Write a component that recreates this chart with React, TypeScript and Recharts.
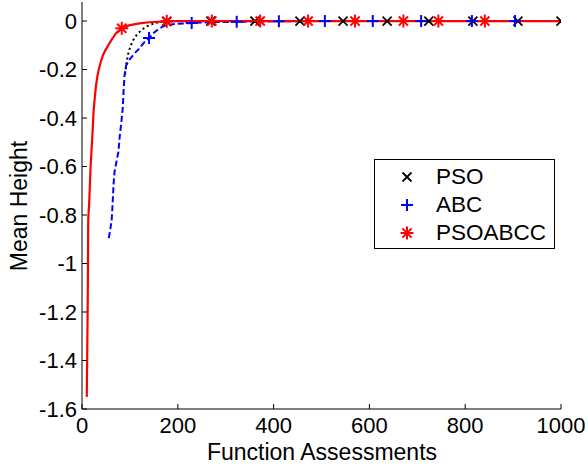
import React from 'react';
import { ComposedChart, Line, Scatter, XAxis, YAxis } from 'recharts';

// ---- data ----
const xTicks = [0, 200, 400, 600, 800, 1000];
const yTicks = [0, -0.2, -0.4, -0.6, -0.8, -1, -1.2, -1.4, -1.6];

const psoLine = [
  { x: 90, y: -0.22 }, { x: 93, y: -0.17 }, { x: 97, y: -0.13 }, { x: 101, y: -0.105 },
  { x: 106, y: -0.082 }, { x: 112, y: -0.063 }, { x: 119, y: -0.047 }, { x: 126, y: -0.034 },
  { x: 136, y: -0.021 }, { x: 147, y: -0.012 }, { x: 160, y: -0.005 }, { x: 177, y: -0.001 },
  { x: 200, y: 0 }, { x: 1000, y: 0 },
];
const psoMarkers = [
  { x: 177, y: -0.001 }, { x: 269, y: 0 }, { x: 361, y: 0 }, { x: 455, y: 0 }, { x: 545, y: 0 },
  { x: 637, y: 0 }, { x: 724, y: 0 }, { x: 816, y: 0 }, { x: 910, y: 0 }, { x: 1000, y: 0 },
];

const abcLine = [
  { x: 56, y: -0.895 }, { x: 59, y: -0.86 }, { x: 62, y: -0.82 }, { x: 64, y: -0.75 },
  { x: 66, y: -0.67 }, { x: 68, y: -0.62 }, { x: 72, y: -0.58 }, { x: 76, y: -0.54 },
  { x: 79, y: -0.47 }, { x: 82, y: -0.42 }, { x: 85, y: -0.36 }, { x: 87, y: -0.28 },
  { x: 89, y: -0.22 }, { x: 92, y: -0.185 }, { x: 97, y: -0.165 }, { x: 103, y: -0.15 },
  { x: 111, y: -0.13 }, { x: 119, y: -0.115 }, { x: 128, y: -0.092 }, { x: 140, y: -0.07 },
  { x: 149, y: -0.05 }, { x: 160, y: -0.032 }, { x: 174, y: -0.018 }, { x: 200, y: -0.011 },
  { x: 229, y: -0.008 }, { x: 270, y: -0.005 }, { x: 323, y: -0.003 }, { x: 411, y: -0.001 },
  { x: 507, y: 0 }, { x: 1000, y: 0 },
];
const abcMarkers = [
  { x: 140, y: -0.07 }, { x: 229, y: -0.008 }, { x: 323, y: -0.003 }, { x: 411, y: -0.001 },
  { x: 507, y: 0 }, { x: 607, y: 0 }, { x: 708, y: 0 }, { x: 814, y: 0 }, { x: 904, y: 0 },
];

const hybLine = [
  { x: 10, y: -1.55 }, { x: 11, y: -1.35 }, { x: 12, y: -1.15 }, { x: 12.5, y: -1.0 },
  { x: 13, y: -0.82 }, { x: 15, y: -0.75 }, { x: 16, y: -0.7 }, { x: 18, y: -0.6 },
  { x: 20, y: -0.53 }, { x: 22, y: -0.46 }, { x: 24, y: -0.38 }, { x: 26, y: -0.33 },
  { x: 29, y: -0.27 }, { x: 32, y: -0.23 }, { x: 35, y: -0.2 }, { x: 39, y: -0.17 },
  { x: 44, y: -0.14 }, { x: 49, y: -0.12 }, { x: 55, y: -0.1 }, { x: 61, y: -0.08 },
  { x: 71, y: -0.05 }, { x: 83, y: -0.03 }, { x: 98, y: -0.018 }, { x: 120, y: -0.01 },
  { x: 140, y: -0.005 }, { x: 177, y: -0.001 }, { x: 200, y: 0 }, { x: 1000, y: 0 },
];
const hybMarkers = [
  { x: 83, y: -0.03 }, { x: 177, y: -0.001 }, { x: 271, y: 0 }, { x: 372, y: 0 }, { x: 472, y: 0 },
  { x: 570, y: 0 }, { x: 671, y: 0 }, { x: 744, y: 0 }, { x: 841, y: 0 },
];

const seriesNames = ['PSO', 'ABC', 'PSOABCC'];
const seriesColors = ['#000000', '#0000ff', '#ff0000'];

const FONT = '"Liberation Sans", Arial, sans-serif';

// ---- marker shapes ----
const XMark = ({ cx, cy, color = '#000' }: any) => (
  <g stroke={color} strokeWidth={1.8} fill="none">
    <line x1={cx - 4.5} y1={cy - 4.5} x2={cx + 4.5} y2={cy + 4.5} />
    <line x1={cx - 4.5} y1={cy + 4.5} x2={cx + 4.5} y2={cy - 4.5} />
  </g>
);
const PlusMark = ({ cx, cy, color = '#0000ff' }: any) => (
  <g stroke={color} strokeWidth={2} fill="none">
    <line x1={cx - 6} y1={cy} x2={cx + 6} y2={cy} />
    <line x1={cx} y1={cy - 6} x2={cx} y2={cy + 6} />
  </g>
);
const StarMark = ({ cx, cy, color = '#ff0000' }: any) => (
  <g stroke={color} strokeWidth={2} fill="none">
    <line x1={cx - 6.5} y1={cy} x2={cx + 6.5} y2={cy} />
    <line x1={cx} y1={cy - 6.5} x2={cx} y2={cy + 6.5} />
    <line x1={cx - 4.6} y1={cy - 4.6} x2={cx + 4.6} y2={cy + 4.6} />
    <line x1={cx - 4.6} y1={cy + 4.6} x2={cx + 4.6} y2={cy - 4.6} />
  </g>
);
const markerComps = [XMark, PlusMark, StarMark];

// ---- ticks (inward) ----
const XTick = ({ x, y, payload }: any) => (
  <g>
    <line x1={x} y1={y} x2={x} y2={y - 5} stroke="#000" strokeWidth={1} />
    <text x={x} y={y + 24} textAnchor="middle" fontSize={22} fontFamily={FONT} fill="#000">
      {String(payload.value)}
    </text>
  </g>
);
const YTick = ({ x, y, payload }: any) => (
  <g>
    <line x1={x} y1={y} x2={x + 5} y2={y} stroke="#000" strokeWidth={1} />
    <text x={x - 5} y={y + 7.5} textAnchor="end" fontSize={22} fontFamily={FONT} fill="#000">
      {String(payload.value)}
    </text>
  </g>
);

export default function App() {
  return (
    <div style={{ position: 'absolute', left: 0, top: 0, width: 588, height: 466, background: '#fff' }}>
      <ComposedChart width={588} height={466} margin={{ top: 2, right: 27, bottom: 17, left: 22 }}>
        <XAxis
          type="number"
          dataKey="x"
          domain={[0, 1000]}
          ticks={xTicks}
          interval={0}
          tickSize={0}
          tickMargin={0}
          tickLine={false}
          axisLine={{ stroke: '#000', strokeWidth: 1 }}
          tick={<XTick />}
          height={40}
          allowDataOverflow
        />
        <YAxis
          type="number"
          dataKey="y"
          domain={[-1.6, 0.0785]}
          ticks={yTicks}
          interval={0}
          tickSize={0}
          tickMargin={0}
          tickLine={false}
          axisLine={{ stroke: '#000', strokeWidth: 1 }}
          tick={<YTick />}
          width={60}
          allowDataOverflow
        />
        <Line data={psoLine} dataKey="y" type="linear" stroke={seriesColors[0]} strokeWidth={2}
          strokeDasharray="2 3" dot={false} activeDot={false} isAnimationActive={false} name={seriesNames[0]} />
        <Scatter data={psoMarkers} dataKey="y" isAnimationActive={false}
          shape={(p: any) => <XMark cx={p.cx} cy={p.cy} color={seriesColors[0]} />} />
        <Line data={abcLine} dataKey="y" type="linear" stroke={seriesColors[1]} strokeWidth={2}
          strokeDasharray="6 3" dot={false} activeDot={false} isAnimationActive={false} name={seriesNames[1]} />
        <Scatter data={abcMarkers} dataKey="y" isAnimationActive={false}
          shape={(p: any) => <PlusMark cx={p.cx} cy={p.cy} color={seriesColors[1]} />} />
        <Line data={hybLine} dataKey="y" type="linear" stroke={seriesColors[2]} strokeWidth={2.2}
          dot={false} activeDot={false} isAnimationActive={false} name={seriesNames[2]} />
        <Scatter data={hybMarkers} dataKey="y" isAnimationActive={false}
          shape={(p: any) => <StarMark cx={p.cx} cy={p.cy} color={seriesColors[2]} />} />
        <text x={322} y={460} textAnchor="middle" fontSize={23} fontFamily={FONT} fill="#000">
          Function Assessments
        </text>
        <text x={27} y={206} textAnchor="middle" fontSize={23} fontFamily={FONT} fill="#000"
          transform="rotate(-90 27 206)">
          Mean Height
        </text>
      </ComposedChart>
      <div
        style={{
          position: 'absolute', left: 374, top: 159, width: 181, height: 90, boxSizing: 'border-box',
          border: '1px solid #000', background: '#fff', fontFamily: FONT, fontSize: 22.5, color: '#000',
          paddingTop: 3,
        }}
      >
        {seriesNames.map((name, i) => {
          const M = markerComps[i];
          return (
            <div key={name} style={{ position: 'relative', height: 28, lineHeight: '28px' }}>
              <svg width={20} height={20} style={{ position: 'absolute', left: 22, top: 4 }}>
                <M cx={10} cy={10} color={seriesColors[i]} />
              </svg>
              <span style={{ position: 'absolute', left: 61, top: 0 }}>{name}</span>
            </div>
          );
        })}
      </div>
    </div>
  );
}
